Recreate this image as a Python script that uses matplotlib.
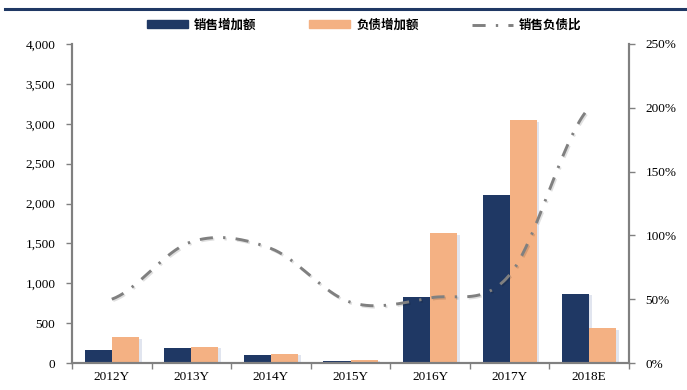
import numpy as np
import matplotlib.pyplot as plt
import matplotlib.patheffects as pe
from matplotlib.lines import Line2D
from matplotlib.patches import Patch
from matplotlib.ticker import FuncFormatter, FixedLocator

plt.rcParams['font.family'] = ['Liberation Serif', 'Noto Sans CJK SC', 'DejaVu Sans']

years = ['2012Y', '2013Y', '2014Y', '2015Y', '2016Y', '2017Y', '2018E']
sales_inc = [160, 190, 105, 20, 830, 2105, 870]    # 销售增加额
debt_inc = [320, 200, 117, 42, 1625, 3045, 435]    # 负债增加额

NAVY = '#1f3864'
ORANGE = '#f4b183'
GREY = '#808080'
DASH = (4.5, 3.5, 0.8, 3.5)


def catmull_rom(y, n=40):
    # smoothed line through every point, ends padded by repeating them
    p = np.concatenate([[y[0]], y, [y[-1]]])
    xs, ys = [], []
    for i in range(1, len(p) - 2):
        t = np.linspace(0, 1, n, endpoint=False)
        p0, p1, p2, p3 = p[i - 1], p[i], p[i + 1], p[i + 2]
        seg = 0.5 * (2 * p1 + (-p0 + p2) * t + (2 * p0 - 5 * p1 + 4 * p2 - p3) * t ** 2
                     + (-p0 + 3 * p1 - 3 * p2 + p3) * t ** 3)
        xs.append(i - 1 + t)
        ys.append(seg)
    xs.append([len(y) - 1])
    ys.append([y[-1]])
    return np.concatenate(xs), np.concatenate(ys)


def main():
    sales = np.array(sales_inc, dtype=float)
    debt = np.array(debt_inc, dtype=float)
    ratio = sales / debt * 100

    fig = plt.figure(figsize=(6.87, 3.90), dpi=100)
    ax = fig.add_axes([0.1048, 0.0692, 0.8108, 0.818])
    ax2 = ax.twinx()

    x = np.arange(len(years))
    w = 0.34
    shadow = [pe.SimplePatchShadow(offset=(2, -1), shadow_rgbFace='#c4cce0', alpha=0.5), pe.Normal()]
    ax.bar(x - w / 2, sales, w, color=NAVY, path_effects=shadow, zorder=2)
    ax.bar(x + w / 2, debt, w, color=ORANGE, path_effects=shadow, zorder=2)

    sx, sy = catmull_rom(ratio)
    ax2.plot(sx, sy, color=GREY, lw=2.1, dashes=DASH,
             path_effects=[pe.SimpleLineShadow(offset=(1, -1), alpha=0.12), pe.Normal()])

    ax.set_xlim(-0.5, len(years) - 0.5)
    ax.set_ylim(0, 4000)
    ax.set_yticks(np.arange(0, 4001, 500))
    ax.yaxis.set_major_formatter(FuncFormatter(lambda v, _: f'{int(v):,}'))
    ax2.set_ylim(0, 250)
    ax2.set_yticks(np.arange(0, 251, 50))
    ax2.yaxis.set_major_formatter(FuncFormatter(lambda v, _: f'{int(v)}%'))

    ax.set_xticks(x)
    ax.set_xticklabels(years)
    ax.xaxis.set_minor_locator(FixedLocator(np.arange(-0.5, len(years), 1)))
    ax.tick_params(axis='x', which='major', length=0, pad=6, labelsize=9.5)
    ax.tick_params(axis='x', which='minor', length=4, color=GREY, width=1)
    ax.tick_params(axis='y', length=4, color=GREY, width=1, labelsize=9.5, pad=8)
    ax2.tick_params(axis='y', length=4, color=GREY, width=1, labelsize=9.5, pad=8)

    for a in (ax, ax2):
        a.spines['top'].set_visible(False)
        for s in ('left', 'right', 'bottom'):
            a.spines[s].set_color(GREY)
            a.spines[s].set_linewidth(1.5)

    handles = [Patch(color=NAVY, label='销售增加额'),
               Patch(color=ORANGE, label='负债增加额'),
               Line2D([], [], color=GREY, lw=2.1, dashes=DASH, label='销售负债比')]
    fig.legend(handles=handles, loc='center', bbox_to_anchor=(0.53, 0.935), ncol=3,
               frameon=False, handlelength=3.3, handleheight=0.6, columnspacing=4.2,
               handletextpad=0.5, prop={'family': ['Noto Sans CJK SC'], 'size': 9, 'weight': 'bold'})

    # header rule
    fig.add_artist(Line2D([0.008, 1.0], [0.978, 0.978], color=NAVY, lw=2.2))

    fig.savefig('out.png', dpi=100)


if __name__ == '__main__':
    main()
